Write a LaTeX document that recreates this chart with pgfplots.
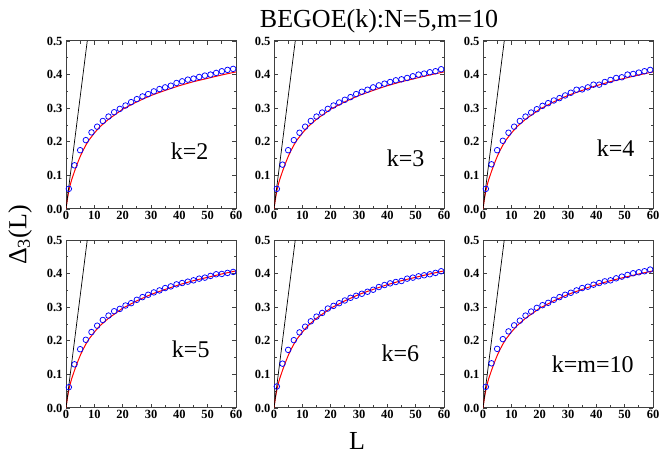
\documentclass[border=0pt]{standalone}
\usepackage{fontspec}
\setmainfont{Liberation Serif}
\usepackage{pgfplots}
\pgfplotsset{compat=1.18}
\usepackage{pgfplotstable}

% GOE curve (red) and Poisson line (black)
\pgfplotstableread{
L D
0 0
0.5 0.030
1 0.054
1.5 0.072
2 0.087
3 0.112
4 0.135
5 0.156
6 0.174
7 0.190
8 0.204
10 0.226
12 0.245
15 0.267
20 0.297
25 0.319
30 0.338
35 0.353
40 0.367
45 0.379
50 0.389
55 0.399
60 0.408
}\goe

\pgfplotstableread{
L k2 k3 k4 k5 k6 k10
1 0.060 0.060 0.060 0.062 0.064 0.063
3 0.130 0.132 0.133 0.130 0.132 0.133
5 0.175 0.175 0.175 0.175 0.173 0.176
7 0.205 0.205 0.203 0.203 0.202 0.205
9 0.228 0.227 0.227 0.226 0.225 0.228
11 0.245 0.245 0.245 0.245 0.242 0.246
13 0.262 0.262 0.262 0.262 0.258 0.260
15 0.275 0.275 0.275 0.275 0.272 0.275
17 0.288 0.287 0.287 0.288 0.283 0.287
19 0.298 0.298 0.297 0.295 0.296 0.298
21 0.308 0.308 0.307 0.305 0.304 0.306
23 0.318 0.317 0.315 0.312 0.312 0.313
25 0.327 0.325 0.323 0.322 0.320 0.322
27 0.335 0.333 0.330 0.330 0.328 0.330
29 0.342 0.342 0.338 0.337 0.334 0.337
31 0.350 0.349 0.346 0.344 0.340 0.343
33 0.357 0.355 0.355 0.350 0.346 0.350
35 0.362 0.362 0.356 0.357 0.352 0.357
37 0.367 0.368 0.362 0.362 0.360 0.361
39 0.375 0.373 0.370 0.368 0.366 0.367
41 0.380 0.378 0.370 0.372 0.371 0.372
43 0.385 0.383 0.378 0.376 0.375 0.377
45 0.388 0.386 0.384 0.380 0.378 0.380
47 0.393 0.390 0.390 0.385 0.385 0.386
49 0.397 0.395 0.392 0.388 0.388 0.391
51 0.400 0.400 0.400 0.393 0.392 0.396
53 0.405 0.403 0.402 0.398 0.395 0.401
55 0.410 0.407 0.406 0.399 0.398 0.404
57 0.414 0.410 0.410 0.402 0.402 0.407
59 0.417 0.416 0.414 0.405 0.407 0.412
}\pts

\pgfplotsset{
  panel/.style={
    scale only axis, width=170bp, height=168bp,
    anchor=south west,
    xmin=0, xmax=60, ymin=0, ymax=0.5,
    xtick={0,10,...,60}, ytick={0,0.1,...,0.5},
    minor x tick num=1, minor y tick num=1,
    xtick pos=both, ytick pos=both, tick align=inside,
    major tick length=4bp, minor tick length=2.5bp,
    axis line style={black!75, line width=1bp},
    every tick/.style={black!75, line width=0.7bp},
    tick label style={font=\fontsize{12.5bp}{14bp}\selectfont\bfseries},
    /pgf/number format/assume math mode=true,
    yticklabel style={/pgf/number format/.cd, fixed, fixed zerofill, precision=1},
    xticklabel style={yshift=1bp},
    clip=true,
  },
  goecurve/.style={red, line width=1bp, no marks},
  poisson/.style={black, line width=0.7bp, no marks},
  datapts/.style={only marks, mark=o, mark size=2.8bp, blue, mark options={line width=0.75bp}},
}
\tikzset{klab/.style={anchor=base east, font=\fontsize{24bp}{28bp}\selectfont}}

\begin{document}
\begin{tikzpicture}
\path (0,0) rectangle (664bp,459bp);

\begin{axis}[panel, at={(66bp,250bp)}]
\addplot[goecurve] table[x=L,y=D] {\goe};
\addplot[poisson] coordinates {(0,0) (7.5,0.5)};
\addplot[datapts] table[x=L,y=k2] {\pts};
\node[klab] at (axis cs:51.5,0.146) {k=2};
\end{axis}

\begin{axis}[panel, at={(274bp,250bp)}]
\addplot[goecurve] table[x=L,y=D] {\goe};
\addplot[poisson] coordinates {(0,0) (7.5,0.5)};
\addplot[datapts] table[x=L,y=k3] {\pts};
\node[klab] at (axis cs:54.3,0.125) {k=3};
\end{axis}

\begin{axis}[panel, at={(483bp,250bp)}]
\addplot[goecurve] table[x=L,y=D] {\goe};
\addplot[poisson] coordinates {(0,0) (7.5,0.5)};
\addplot[datapts] table[x=L,y=k4] {\pts};
\node[klab] at (axis cs:54.7,0.155) {k=4};
\end{axis}

\begin{axis}[panel, at={(66bp,51bp)}]
\addplot[goecurve] table[x=L,y=D] {\goe};
\addplot[poisson] coordinates {(0,0) (7.5,0.5)};
\addplot[datapts] table[x=L,y=k5] {\pts};
\node[klab] at (axis cs:51.9,0.15) {k=5};
\end{axis}

\begin{axis}[panel, at={(274bp,51bp)}]
\addplot[goecurve] table[x=L,y=D] {\goe};
\addplot[poisson] coordinates {(0,0) (7.5,0.5)};
\addplot[datapts] table[x=L,y=k6] {\pts};
\node[klab] at (axis cs:52.5,0.138) {k=6};
\end{axis}

\begin{axis}[panel, at={(483bp,51bp)}]
\addplot[goecurve] table[x=L,y=D] {\goe};
\addplot[poisson] coordinates {(0,0) (7.5,0.5)};
\addplot[datapts] table[x=L,y=k10] {\pts};
\node[klab] at (axis cs:54.4,0.106) {k=m=10};
\end{axis}

\node[font=\fontsize{26bp}{30bp}\selectfont] at (379bp,438bp) {BEGOE(k):N=5,m=10};
\node[font=\fontsize{26bp}{30bp}\selectfont] at (357bp,18bp) {L};
\node[font=\fontsize{26bp}{30bp}\selectfont, rotate=90] at (20bp,224bp) {Δ\textsubscript{3}(L)};
\end{tikzpicture}
\end{document}
